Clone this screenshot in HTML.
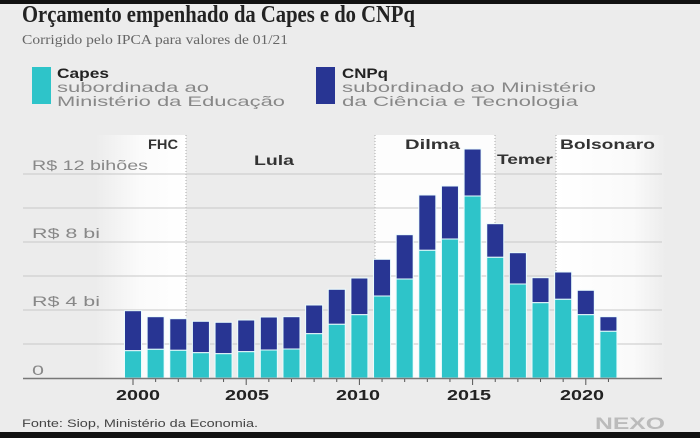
<!DOCTYPE html>
<html><head><meta charset="utf-8"><style>
html,body{margin:0;padding:0;background:#ececec;}
svg{display:block}
</style></head><body>
<svg width="700" height="438" viewBox="0 0 700 438" xmlns="http://www.w3.org/2000/svg">
<defs>
<linearGradient id="fg" x1="0" x2="1"><stop offset="0" stop-color="#ececec"/><stop offset="0.5" stop-color="#fbfbfb"/><stop offset="1" stop-color="#ffffff"/></linearGradient>
<linearGradient id="bg2" x1="0" x2="1"><stop offset="0" stop-color="#ffffff"/><stop offset="0.7" stop-color="#fafafa"/><stop offset="1" stop-color="#ececec"/></linearGradient>
</defs>
<rect width="700" height="438" fill="#ececec"/>
<rect x="0" y="0" width="700" height="4" fill="#111"/>
<rect x="0" y="432" width="700" height="6" fill="#111"/>
<rect x="95" y="135" width="91" height="243" fill="url(#fg)"/>
<rect x="375" y="135" width="120" height="243" fill="#fdfdfd"/>
<rect x="556" y="135" width="110" height="243" fill="url(#bg2)"/>
<g stroke="#aaa" stroke-dasharray="1,2" stroke-width="1">
<line x1="186" y1="135" x2="186" y2="378"/><line x1="375" y1="135" x2="375" y2="378"/>
<line x1="495" y1="135" x2="495" y2="378"/><line x1="556" y1="135" x2="556" y2="378"/>
</g>
<g stroke="#c8c8c8" stroke-width="1">
<line x1="23" y1="174" x2="662" y2="174"/><line x1="23" y1="208" x2="662" y2="208"/>
<line x1="23" y1="242" x2="662" y2="242"/><line x1="23" y1="276" x2="662" y2="276"/>
<line x1="23" y1="310" x2="662" y2="310"/><line x1="23" y1="344" x2="662" y2="344"/>
</g>
<g font-family="Liberation Sans, sans-serif" font-size="14" fill="#888">
<text x="32" y="170" textLength="116" lengthAdjust="spacingAndGlyphs">R$ 12 bihões</text>
<text x="32" y="238" textLength="68" lengthAdjust="spacingAndGlyphs">R$ 8 bi</text>
<text x="32" y="306" textLength="68" lengthAdjust="spacingAndGlyphs">R$ 4 bi</text>
<text x="32" y="375" textLength="12" lengthAdjust="spacingAndGlyphs">0</text>
</g>
<g font-family="Liberation Sans, sans-serif" font-size="14" font-weight="bold" fill="#333">
<text x="148" y="149" textLength="30" lengthAdjust="spacingAndGlyphs">FHC</text>
<text x="254" y="165" textLength="40" lengthAdjust="spacingAndGlyphs">Lula</text>
<text x="405" y="149" textLength="55" lengthAdjust="spacingAndGlyphs">Dilma</text>
<text x="497" y="164" textLength="56" lengthAdjust="spacingAndGlyphs">Temer</text>
<text x="560" y="149" textLength="95" lengthAdjust="spacingAndGlyphs">Bolsonaro</text>
</g>
<g id="bars" stroke="#eafcfd" stroke-width="1"></g>
<line x1="23" y1="378.5" x2="662" y2="378.5" stroke="#777" stroke-width="1.5"/>
<g id="ticks" stroke="#555" stroke-width="1"></g>
<g font-family="Liberation Sans, sans-serif" font-size="15" font-weight="bold" fill="#222" text-anchor="middle">
<text x="138" y="400" textLength="44" lengthAdjust="spacingAndGlyphs">2000</text>
<text x="247" y="400" textLength="44" lengthAdjust="spacingAndGlyphs">2005</text>
<text x="358" y="400" textLength="44" lengthAdjust="spacingAndGlyphs">2010</text>
<text x="469" y="400" textLength="44" lengthAdjust="spacingAndGlyphs">2015</text>
<text x="582" y="400" textLength="44" lengthAdjust="spacingAndGlyphs">2020</text>
</g>
<text x="22" y="22" font-family="Liberation Serif, serif" font-weight="bold" font-size="24" fill="#222" textLength="393" lengthAdjust="spacingAndGlyphs">Orçamento empenhado da Capes e do CNPq</text>
<text x="22" y="44" font-family="Liberation Serif, serif" font-size="14" fill="#666" textLength="266" lengthAdjust="spacingAndGlyphs">Corrigido pelo IPCA para valores de 01/21</text>
<rect x="32" y="67" width="19" height="37" fill="#2ec4c9"/>
<rect x="316" y="67" width="19" height="37" fill="#283593"/>
<g font-family="Liberation Sans, sans-serif" font-size="14" fill="#888">
<text x="57" y="78" font-weight="bold" fill="#222" textLength="52" lengthAdjust="spacingAndGlyphs">Capes</text>
<text x="57" y="92" textLength="152" lengthAdjust="spacingAndGlyphs">subordinada ao</text>
<text x="57" y="106" textLength="228" lengthAdjust="spacingAndGlyphs">Ministério da Educação</text>
<text x="342" y="78" font-weight="bold" fill="#222" textLength="46" lengthAdjust="spacingAndGlyphs">CNPq</text>
<text x="342" y="92" textLength="254" lengthAdjust="spacingAndGlyphs">subordinado ao Ministério</text>
<text x="342" y="106" textLength="236" lengthAdjust="spacingAndGlyphs">da Ciência e Tecnologia</text>
</g>
<text x="22" y="427" font-family="Liberation Sans, sans-serif" font-size="11" fill="#444" textLength="236" lengthAdjust="spacingAndGlyphs">Fonte: Siop, Ministério da Economia.</text>
<text x="595" y="429" font-family="Liberation Sans, sans-serif" font-size="17" font-weight="bold" fill="#bbb" textLength="70" lengthAdjust="spacingAndGlyphs">NEXO</text>
<script>
var d=[[310.7,350.7],[316.7,349.3],[318.7,350.3],[321.3,352.7],[322.3,353.7],[320,351.7],[317,350],[316.7,349],[305,333.7],[289.3,324.3],[278,314.7],[259.3,296],[234.7,279],[195,250.3],[186,239],[149,196],[223.7,257.3],[252.7,284],[277.7,302.7],[272,299.3],[290.3,314.7],[316.7,331.3]];
var g=document.getElementById('bars'),t=document.getElementById('ticks'),ns='http://www.w3.org/2000/svg';
d.forEach(function(v,i){var c=133+22.64*i,x=c-8.5;
var r1=document.createElementNS(ns,'rect');r1.setAttribute('x',x);r1.setAttribute('y',v[0]);r1.setAttribute('width',17);r1.setAttribute('height',v[1]-v[0]);r1.setAttribute('fill','#283593');g.appendChild(r1);
var r2=document.createElementNS(ns,'rect');r2.setAttribute('x',x);r2.setAttribute('y',v[1]);r2.setAttribute('width',17);r2.setAttribute('height',378-v[1]);r2.setAttribute('fill','#2ec4c9');g.appendChild(r2);
var l=document.createElementNS(ns,'line');l.setAttribute('x1',c);l.setAttribute('x2',c);l.setAttribute('y1',379);l.setAttribute('y2',(i%5==0)?385:382);t.appendChild(l);});
</script>
</svg>
</body></html>
